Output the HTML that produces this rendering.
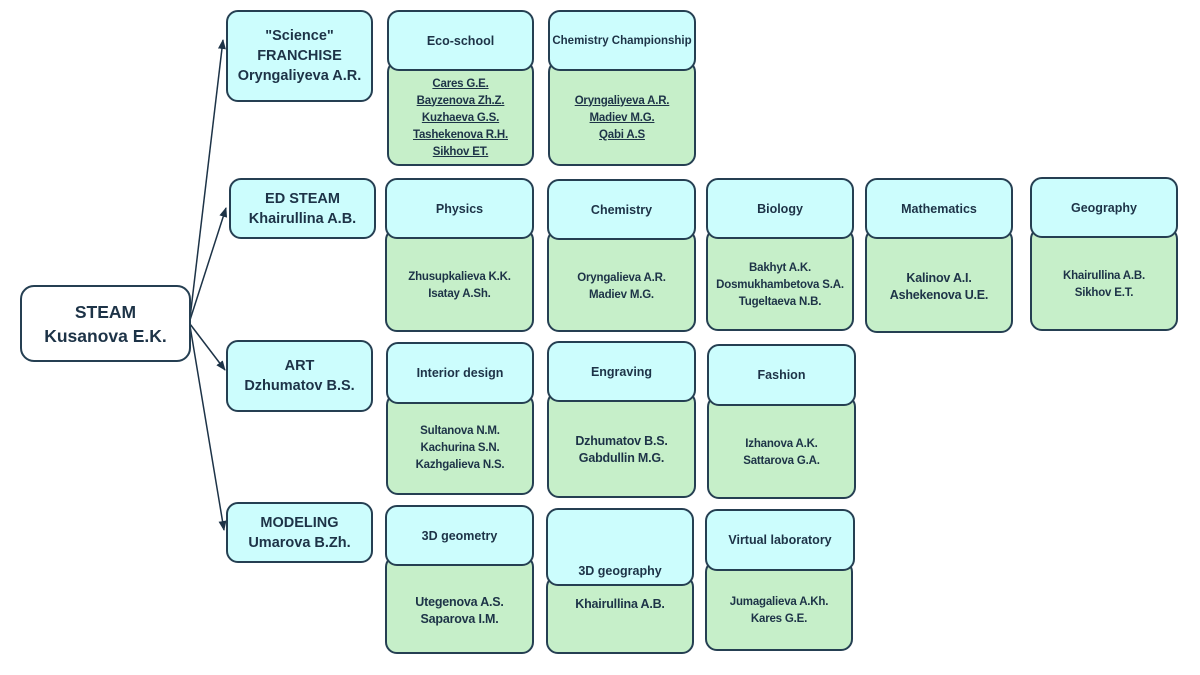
<!DOCTYPE html>
<html><head><meta charset="utf-8"><style>
body{margin:0;width:1200px;height:675px;background:#fff;position:relative;overflow:hidden;font-family:"Liberation Sans",sans-serif;color:#1d3347;font-weight:bold}
.b{position:absolute;box-sizing:border-box;border:2px solid #253f52;border-radius:12px;display:flex;align-items:center;justify-content:center;text-align:center;flex-direction:column}
.c{background:#ccfdfd}
.g{background:#c6efc9}
.h{font-size:12.5px}
.n{font-size:11.5px;line-height:17px;letter-spacing:-0.2px}
.l1{font-size:14.5px;line-height:20px}
u{text-decoration:underline}
</style></head><body>
<svg width="1200" height="675" style="position:absolute;left:0;top:0">
<defs><marker id="a" markerWidth="10" markerHeight="10" refX="9" refY="5" orient="auto" markerUnits="userSpaceOnUse"><path d="M0,1 L10,5 L0,9 Z" fill="#1d3347"/></marker></defs>
<g stroke="#1d3347" stroke-width="1.5" fill="none">
<line x1="190" y1="318" x2="223" y2="40" marker-end="url(#a)"/>
<line x1="190" y1="320" x2="226" y2="208" marker-end="url(#a)"/>
<line x1="190" y1="324" x2="225" y2="370" marker-end="url(#a)"/>
<line x1="190" y1="326" x2="224" y2="530" marker-end="url(#a)"/>
</g></svg>
<div class="b" style="left:20px;top:285px;width:171px;height:77px;border-radius:14px;font-size:17.5px;line-height:24px;background:#fff">STEAM<br>Kusanova E.K.</div>
<div class="b c l1" style="left:226px;top:10px;width:147px;height:92px">"Science"<br>FRANCHISE<br>Oryngaliyeva A.R.</div>
<div class="b c l1" style="left:229px;top:178px;width:147px;height:61px">ED STEAM<br>Khairullina A.B.</div>
<div class="b c l1" style="left:226px;top:340px;width:147px;height:72px">ART<br>Dzhumatov B.S.</div>
<div class="b c l1" style="left:226px;top:502px;width:147px;height:61px">MODELING<br>Umarova B.Zh.</div>

<div class="b g n" style="left:387px;top:60px;width:147px;height:106px;padding-top:10px"><u>Cares G.E.</u><u>Bayzenova Zh.Z.</u><u>Kuzhaeva G.S.</u><u>Tashekenova R.H.</u><u>Sikhov ET.</u></div>
<div class="b c h" style="left:387px;top:10px;width:147px;height:61px">Eco-school</div>
<div class="b g n" style="left:548px;top:60px;width:148px;height:106px;padding-top:10px"><u>Oryngaliyeva A.R.</u><u>Madiev M.G.</u><u>Qabi A.S</u></div>
<div class="b c h" style="left:548px;top:10px;width:148px;height:61px;font-size:11.5px">Chemistry Championship</div>

<div class="b g n" style="left:385px;top:228px;width:149px;height:104px;padding-top:12px">Zhusupkalieva K.K.<br>Isatay A.Sh.</div>
<div class="b c h" style="left:385px;top:178px;width:149px;height:61px">Physics</div>
<div class="b g n" style="left:547px;top:229px;width:149px;height:103px;padding-top:12px">Oryngalieva A.R.<br>Madiev M.G.</div>
<div class="b c h" style="left:547px;top:179px;width:149px;height:61px">Chemistry</div>
<div class="b g n" style="left:706px;top:228px;width:148px;height:103px;padding-top:12px">Bakhyt A.K.<br>Dosmukhambetova S.A.<br>Tugeltaeva N.B.</div>
<div class="b c h" style="left:706px;top:178px;width:148px;height:61px">Biology</div>
<div class="b g n" style="left:865px;top:228px;width:148px;height:105px;padding-top:12px;font-size:12.5px">Kalinov A.I.<br>Ashekenova U.E.</div>
<div class="b c h" style="left:865px;top:178px;width:148px;height:61px">Mathematics</div>
<div class="b g n" style="left:1030px;top:227px;width:148px;height:104px;padding-top:12px">Khairullina A.B.<br>Sikhov E.T.</div>
<div class="b c h" style="left:1030px;top:177px;width:148px;height:61px">Geography</div>

<div class="b g n" style="left:386px;top:393px;width:148px;height:102px;padding-top:8px">Sultanova N.M.<br>Kachurina S.N.<br>Kazhgalieva N.S.</div>
<div class="b c h" style="left:386px;top:342px;width:148px;height:62px">Interior design</div>
<div class="b g n" style="left:547px;top:391px;width:149px;height:107px;padding-top:10px;font-size:12.5px">Dzhumatov B.S.<br>Gabdullin M.G.</div>
<div class="b c h" style="left:547px;top:341px;width:149px;height:61px">Engraving</div>
<div class="b g n" style="left:707px;top:395px;width:149px;height:104px;padding-top:12px">Izhanova A.K.<br>Sattarova G.A.</div>
<div class="b c h" style="left:707px;top:344px;width:149px;height:62px">Fashion</div>

<div class="b g n" style="left:385px;top:555px;width:149px;height:99px;padding-top:12px;font-size:12.5px">Utegenova A.S.<br>Saparova I.M.</div>
<div class="b c h" style="left:385px;top:505px;width:149px;height:61px">3D geometry</div>
<div class="b g n" style="left:546px;top:575px;width:148px;height:79px;font-size:12.5px;padding-bottom:20px">Khairullina A.B.</div>
<div class="b c h" style="left:546px;top:508px;width:148px;height:78px;justify-content:flex-end;padding-bottom:6px">3D geography</div>
<div class="b g n" style="left:705px;top:560px;width:148px;height:91px;padding-top:10px">Jumagalieva A.Kh.<br>Kares G.E.</div>
<div class="b c h" style="left:705px;top:509px;width:150px;height:62px">Virtual laboratory</div>
</body></html>
